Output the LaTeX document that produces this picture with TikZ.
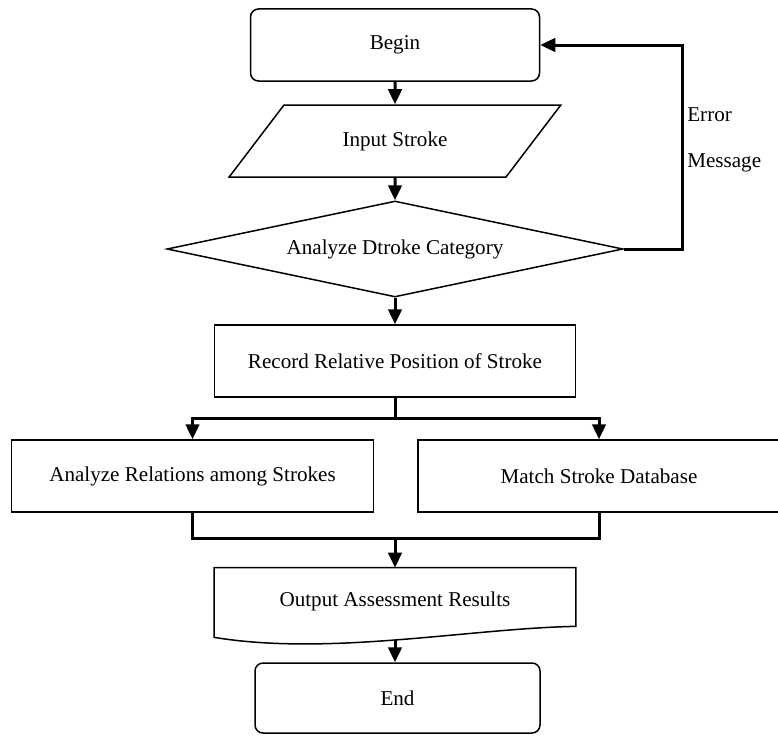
\documentclass[tikz,border=0pt]{standalone}
\usepackage{fontspec}
\setmainfont{Liberation Serif}
\usetikzlibrary{shapes.geometric, arrows.meta, positioning}
\tikzstyle{startstop} = [rectangle, rounded corners=0.16cm, draw, line width=0.03cm, text centered, minimum height=1.44cm, minimum width=5.78cm]
\tikzstyle{io} = [trapezium, trapezium left angle=47, trapezium right angle=133, trapezium stretches=true, draw, line width=0.03cm, minimum height=1.44cm, minimum width=6.7cm]
\tikzstyle{decision} = [diamond, draw, line width=0.03cm, aspect=4.75, inner sep=0pt, minimum width=9.12cm, minimum height=1.92cm]
\tikzstyle{process} = [rectangle, draw, line width=0.03cm, text centered, minimum height=1.44cm, minimum width=7.24cm]
\tikzstyle{document} = [rectangle, minimum height=1.32cm, minimum width=7.22cm]
\tikzstyle{arrow} = [line width=0.06cm, -{Triangle[length=0.3cm, width=0.27cm]}]
\tikzstyle{wire} = [line width=0.06cm]

\begin{document}
\begin{tikzpicture}[node distance=2cm, font=\fontsize{12}{14}\selectfont]

    \useasboundingbox (0,0) rectangle (15.56,-14.72);

    % Main column
    \node (begin) [startstop] at (7.9,-0.9) {Begin};
    \node (input) [io, below of=begin, yshift=0.08cm] {Input Stroke};
    \node (dia) [decision, below of=input, yshift=-0.16cm] {Analyze Dtroke Category};
    \node (record) [process, minimum width=7.22cm, below of=dia, yshift=-0.24cm] {Record Relative Position of Stroke};

    % Two branches
    \node (rel) [process, below of=record, xshift=-4.05cm, yshift=-0.3cm] {Analyze Relations among Strokes};
    \node (match) [process, below of=record, xshift=4.08cm, yshift=-0.3cm] {Match Stroke Database};

    % Output and end
    \node (out) [document, below of=record, yshift=-2.8cm] {Output Assessment Results};
    \draw [line width=0.03cm] (out.north west) -- (out.north east) -- ([yshift=0.16cm]out.south east)
        .. controls +(-2.12,-0.04) and +(2.3,-0.38) .. ([yshift=-0.06cm]out.south west) -- cycle;
    \node (end) [startstop, minimum width=5.7cm, minimum height=1.4cm, below of=out, xshift=0.05cm, yshift=0.06cm] {End};

    % Error loop
    \coordinate [right=2.85cm of begin.east] (back);
    \node (err) [anchor=west, inner sep=0pt] at (13.74,-2.3) {Error};
    \node (msg) [anchor=west, inner sep=0pt] at (13.74,-3.26) {Message};

    % Split and join points
    \coordinate [below=0.42cm of record.south] (split);
    \coordinate [above=0.58cm of out.north] (join);

    % ==== Arrows
    \draw [arrow] (begin) -- (input);
    \draw [arrow] (input) -- (dia);
    \draw [arrow] (dia) -- (record);
    \draw [arrow] (dia.east) -| (back) -- (begin.east);

    \draw [wire] (record.south) -- (split);
    \draw [arrow] (split) -| (rel.north);
    \draw [arrow] (split) -| (match.north);

    \draw [wire] (rel.south) |- (join);
    \draw [wire] (match.south) |- (join);
    \draw [arrow] (join) -- (out.north);
    \draw [arrow] ([yshift=-0.12cm]out.south) -- (out.south |- end.north);

\end{tikzpicture}
\end{document}
